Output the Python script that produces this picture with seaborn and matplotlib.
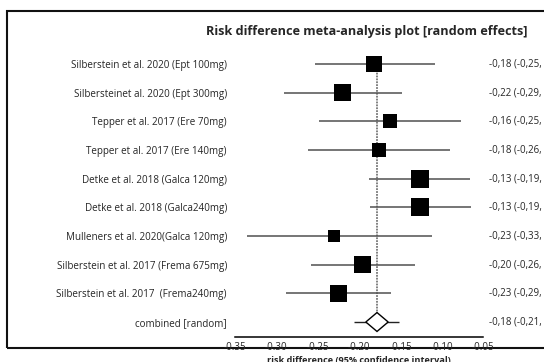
import numpy as np
import pandas as pd
import matplotlib
matplotlib.use("Agg")
import matplotlib.pyplot as plt
from matplotlib.patches import Rectangle, Polygon
import seaborn as sns

# ---------------- data ----------------
studies = [
    "Silberstein et al. 2020 (Ept 100mg)",
    "Silbersteinet al. 2020 (Ept 300mg)",
    "Tepper et al. 2017 (Ere 70mg)",
    "Tepper et al. 2017 (Ere 140mg)",
    "Detke et al. 2018 (Galca 120mg)",
    "Detke et al. 2018 (Galca240mg)",
    "Mulleners et al. 2020(Galca 120mg)",
    "Silberstein et al. 2017 (Frema 675mg)",
    "Silberstein et al. 2017  (Frema240mg)",
]
estimate = [-0.182, -0.220, -0.163, -0.176, -0.127, -0.126, -0.231, -0.196, -0.225]
lower = [-0.253, -0.291, -0.249, -0.262, -0.188, -0.187, -0.335, -0.258, -0.288]
upper = [-0.108, -0.148, -0.077, -0.090, -0.066, -0.065, -0.112, -0.133, -0.161]
weight_box_px = [16, 17, 14, 14.5, 18, 18, 12, 17.5, 17.5]
ci_text = [
    "-0,18 (-0,25, -0,11)",
    "-0,22 (-0,29, -0,15)",
    "-0,16 (-0,25, -0,08)",
    "-0,18 (-0,26, -0,09)",
    "-0,13 (-0,19, -0,07)",
    "-0,13 (-0,19, -0,07)",
    "-0,23 (-0,33, -0,11)",
    "-0,20 (-0,26, -0,13)",
    "-0,23 (-0,29, -0,16)",
]
combined_label = "combined [random]"
combined_est = -0.1785
combined_diamond = [-0.192, -0.165]
combined_ci = [-0.206, -0.152]
combined_text = "-0,18 (-0,21, -0,15)"
xticks = [-0.35, -0.30, -0.25, -0.20, -0.15, -0.10, -0.05]
title = "Risk difference meta-analysis plot [random effects]"
xlabel = "risk difference (95% confidence interval)"

# ---------------- style ----------------
sns.set_style("white")
plt.rcParams["font.family"] = ["Open Sans", "DejaVu Sans"]

W, H = 544, 362
fig = plt.figure(figsize=(W / 100, H / 100), dpi=100)

px_left, px_right = 235, 483.4
row0_px, row_step = 64, 28.67
y_top = -0.6
y_bot = 9 + (337 - 322) / row_step
top_px = row0_px + y_top * row_step
ax = fig.add_axes([px_left / W, (H - 337) / H, (px_right - px_left) / W, (337 - top_px) / H])

n = len(studies)
df = pd.DataFrame({"study": studies, "est": estimate, "lo": lower, "hi": upper,
                   "box": weight_box_px, "row": np.arange(n)})

line_col = "#505050"
ax.hlines(df["row"], df["lo"], df["hi"], color=line_col, lw=1.1, zorder=2)
ax.hlines([n], [combined_ci[0]], [combined_ci[1]], color="#222222", lw=1.0, zorder=2)

# reference dotted line at combined estimate
ax.vlines([combined_est], 0, n - 0.33, color="#777777", lw=1.3, linestyles=(0, (1, 0.6)), zorder=1)

sizes = {b: (b * 0.72) ** 2 for b in weight_box_px}
sns.scatterplot(data=df, x="est", y="row", size="box", sizes=sizes, marker="s",
                color="black", linewidth=0, legend=False, ax=ax, zorder=3)

dh = 0.33
diamond = Polygon([(combined_diamond[0], n), (combined_est, n - dh),
                   (combined_diamond[1], n), (combined_est, n + dh)],
                  closed=True, facecolor="white", edgecolor="black", lw=1.0, zorder=4)
ax.add_patch(diamond)

ax.set_xlim(xticks[0], xticks[-1])
ax.set_ylim(y_bot, y_top)
ax.set_xticks(xticks)
ax.set_xticklabels([f"{t:.2f}" for t in xticks], fontsize=7)
ax.set_yticks(list(range(n + 1)))
ax.set_yticklabels(studies + [combined_label], fontsize=7.1)
ax.tick_params(axis="y", length=0, pad=5.8)
ax.tick_params(axis="x", direction="out", length=3, width=1.1, pad=0.3, color="black")
for s in ["top", "right", "left"]:
    ax.spines[s].set_visible(False)
ax.spines["bottom"].set_linewidth(1.1)
ax.spines["bottom"].set_color("black")
ax.set_ylabel("")
ax.set_xlabel(xlabel, fontsize=6.6, fontweight="bold", labelpad=2.5)
ax.patch.set_alpha(0)

xr = (489 - px_left) / (px_right - px_left)
for i, t in enumerate(ci_text + [combined_text]):
    ax.text(xr, i, t, transform=ax.get_yaxis_transform(), ha="left", va="center",
            fontsize=7.0, clip_on=False)

fig.text(367 / W, (H - 31) / H, title, ha="center", va="center",
         fontsize=9.1, fontweight="bold")

frame = Rectangle((7 / W, (H - 348) / H), 1.2, (348 - 11) / H, transform=fig.transFigure,
                  fill=False, edgecolor="#111111", lw=1.5, zorder=0)
fig.add_artist(frame)

fig.savefig("out.png", dpi=100)
